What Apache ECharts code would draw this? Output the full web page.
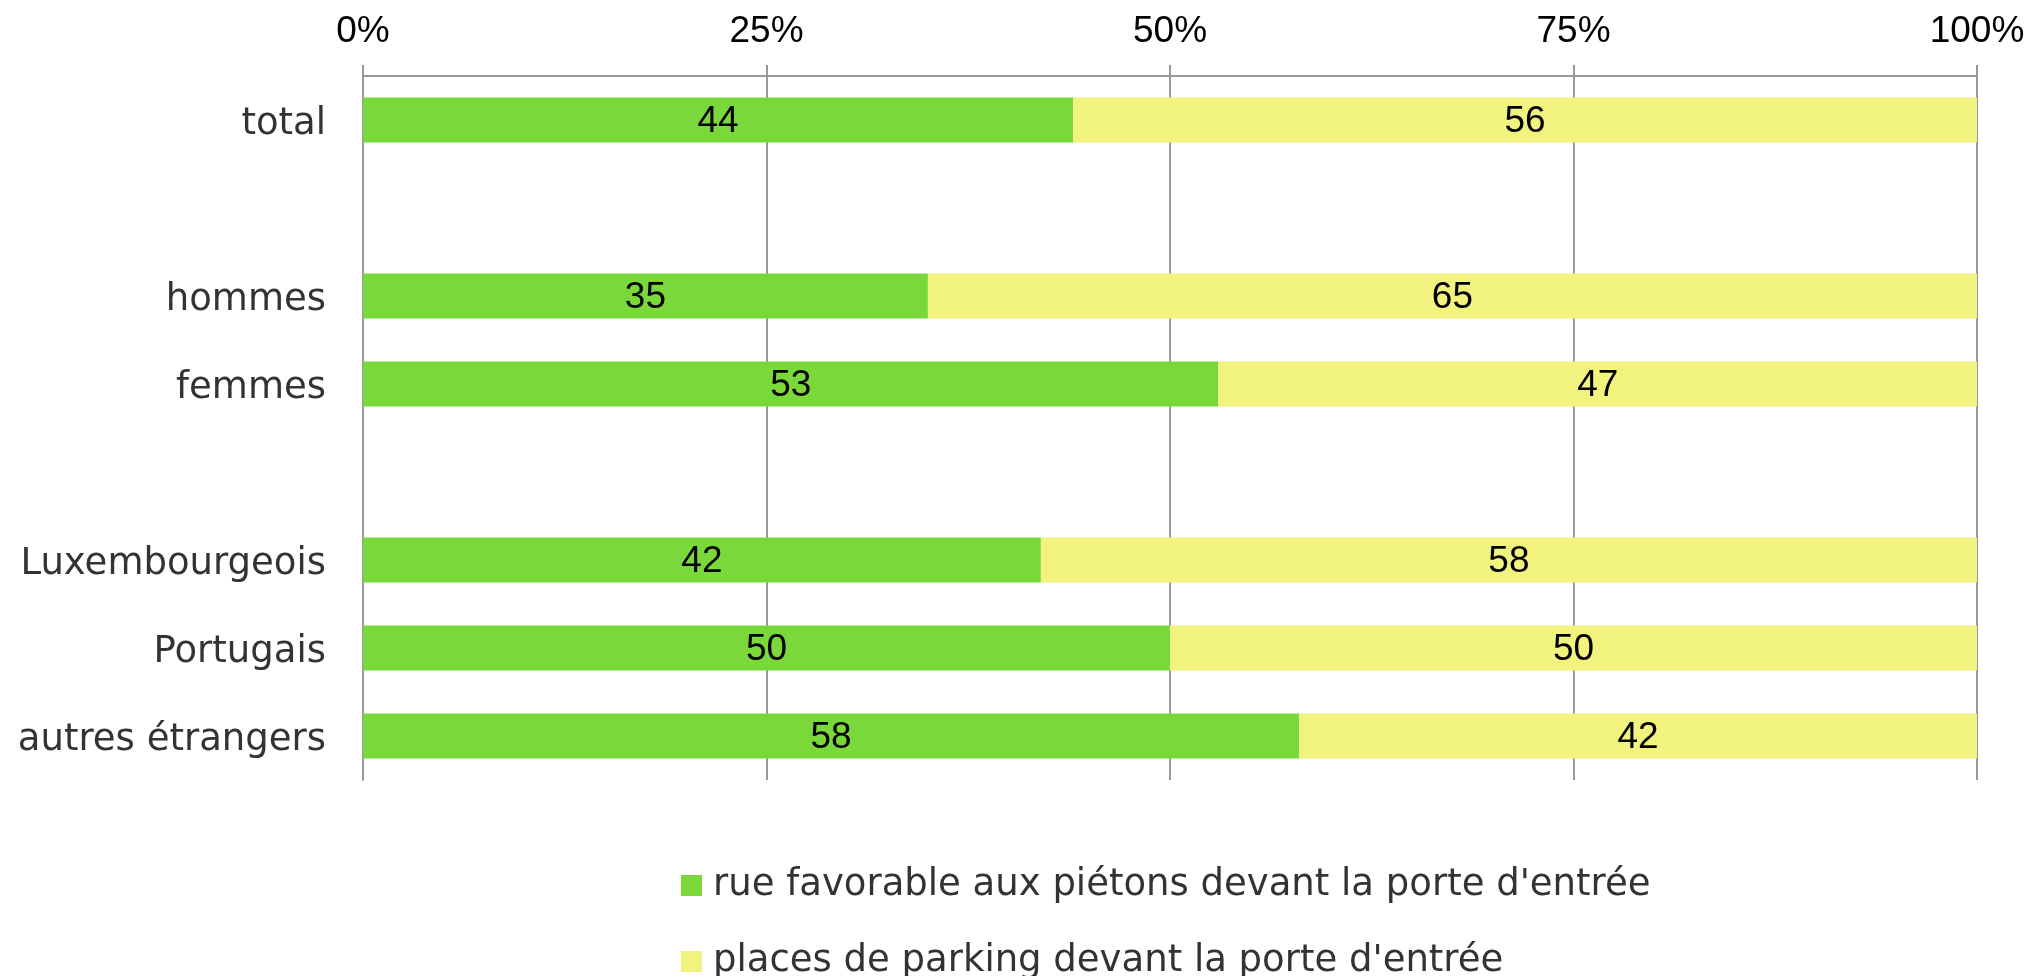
<!DOCTYPE html>
<html>
<head>
<meta charset="utf-8">
<script src="https://cdn.jsdelivr.net/npm/echarts@6/dist/echarts.min.js"></script>
<style>
  html, body { margin: 0; padding: 0; background: #fff; }
  #chart { width: 2029px; height: 976px; }
</style>
</head>
<body>
<div id="chart"></div>
<script>
// blank entries keep the gaps between the groups
const categories = ["total", "", "hommes", "femmes", " ", "Luxembourgeois", "Portugais", "autres étrangers"];
const pietons = [44, null, 35, 53, null, 42, 50, 58];
const parking = [56, null, 65, 47, null, 58, 50, 42];
const seriesNames = [
  "rue favorable aux piétons devant la porte d'entrée",
  "places de parking devant la porte d'entrée",
];
const tickValues = [0, 25, 50, 75, 100];

const chart = echarts.init(document.getElementById("chart"));

const valueLabel = {
  show: true,
  position: "inside",
  offset: [0, 2],
  formatter: "{c}",
  color: "#000",
  fontFamily: "'Liberation Sans', Arial, sans-serif",
  fontSize: 37,
};

// one legend per line, stacked under the plot
const legendBase = {
  orient: "vertical",
  left: 681,
  padding: 0,
  itemWidth: 21,
  itemHeight: 21,
  icon: "rect",
  textStyle: {
    fontFamily: "'DejaVu Sans', Verdana, sans-serif",
    fontSize: 37,
    lineHeight: 30,
    color: "#333",
    padding: [0, 0, 0, 6],
  },
};

chart.setOption({
  animation: false,
  grid: { left: 363, right: 52, top: 76, bottom: 196, containLabel: false },
  legend: [
    { ...legendBase, top: 867, data: [seriesNames[0]] },
    { ...legendBase, top: 943, data: [seriesNames[1]] },
  ],
  xAxis: {
    type: "value",
    position: "top",
    min: 0,
    max: 100,
    interval: 25,
    axisLine: { show: true, lineStyle: { color: "#999", width: 2 } },
    axisTick: { show: true, length: 11, lineStyle: { color: "#999", width: 2 } },
    splitLine: { show: true, lineStyle: { color: "#999", width: 2 } },
    axisLabel: {
      margin: 26,
      color: "#000",
      fontFamily: "'Liberation Sans', Arial, sans-serif",
      fontSize: 37,
      formatter: (v) => (tickValues.includes(v) ? v + "%" : ""),
    },
  },
  yAxis: {
    type: "category",
    inverse: true,
    data: categories,
    axisLine: { show: true, lineStyle: { color: "#999", width: 2 } },
    axisTick: { show: false },
    axisLabel: {
      margin: 37,
      verticalAlign: "top",
      lineHeight: 8,
      color: "#333",
      fontFamily: "'DejaVu Sans', Verdana, sans-serif",
      fontSize: 37,
    },
  },
  series: [
    {
      name: seriesNames[0],
      type: "bar",
      stack: "total",
      barWidth: 45,
      data: pietons,
      itemStyle: { color: "#7ad83a" },
      label: valueLabel,
    },
    {
      name: seriesNames[1],
      type: "bar",
      stack: "total",
      barWidth: 45,
      data: parking,
      itemStyle: { color: "#f2f37f" },
      label: valueLabel,
    },
  ],
});
</script>
</body>
</html>
